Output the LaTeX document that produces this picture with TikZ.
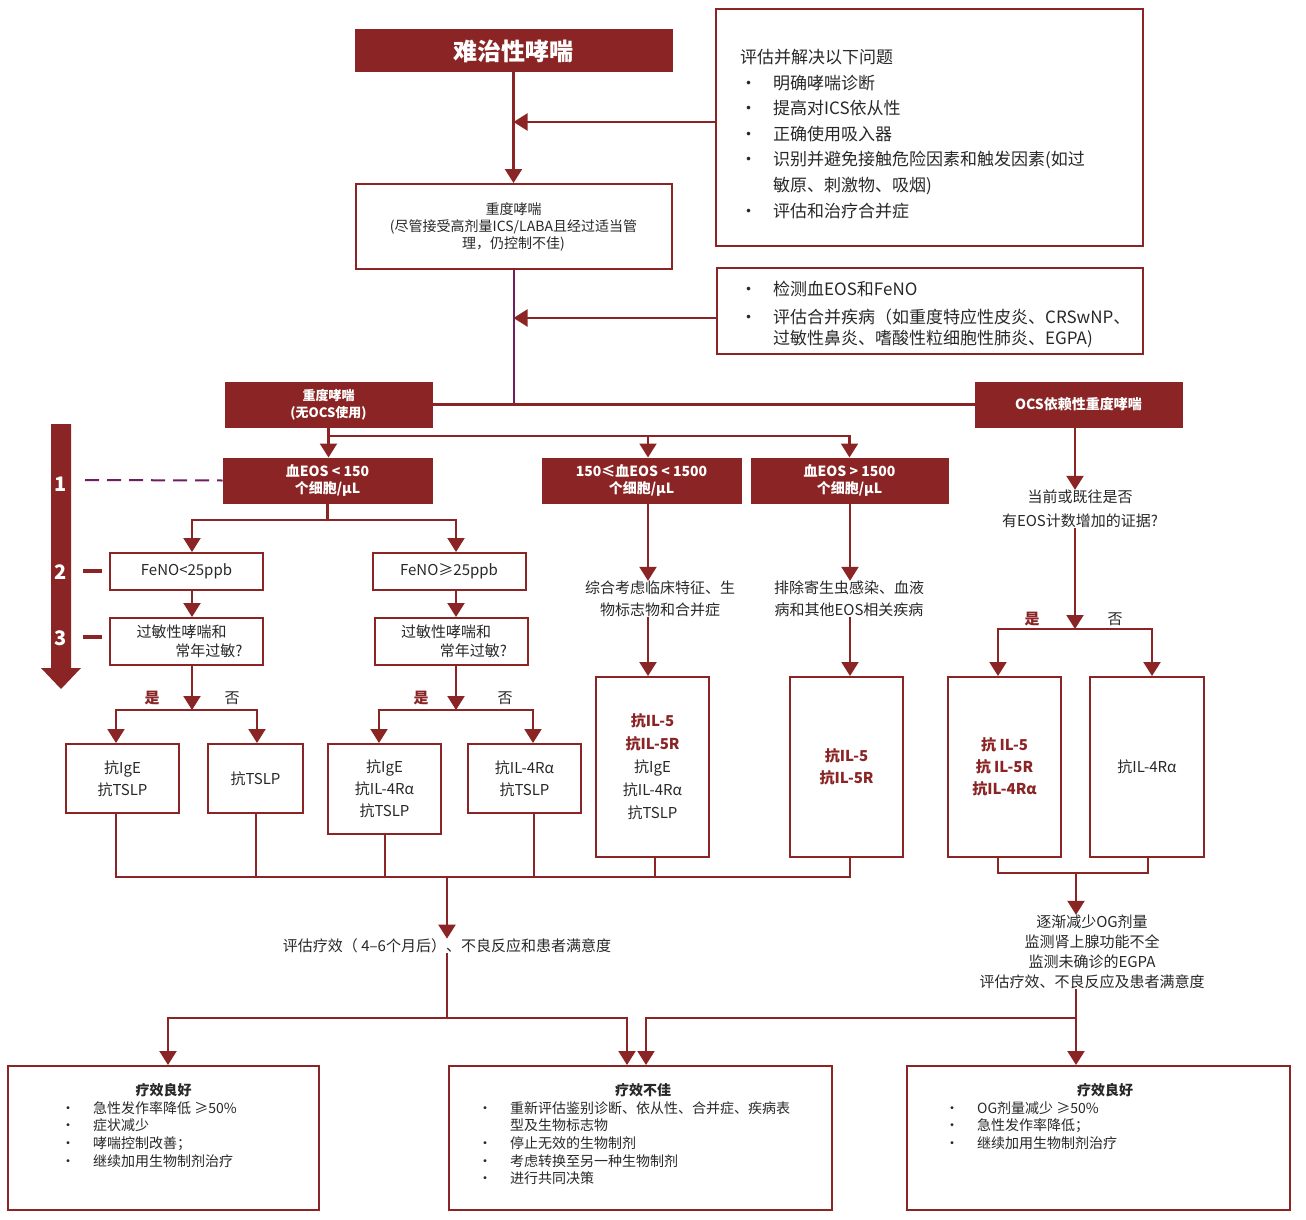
\documentclass[tikz,border=0pt]{standalone}
\usepackage{fontspec}
\setmainfont{Noto Sans CJK SC}
\usepackage{xcolor}
\usepackage{tikz}
\usetikzlibrary{arrows.meta}
\definecolor{drd}{RGB}{139,37,37}
\definecolor{prp}{RGB}{112,30,96}
\definecolor{txt}{RGB}{40,40,40}
\newcommand{\fs}[2]{\fontsize{#1}{#2}\selectfont}
\newcommand{\bl}[1][32pt]{\makebox[#1][l]{•}}
\newcommand{\hlt}[1]{{\bfseries\color{drd}#1}}

\begin{document}
\begin{tikzpicture}[x=1pt,y=-1pt,
  rbox/.style={draw=drd,fill=drd,text=white,font=\bfseries\fs{14}{17},align=center,inner sep=0pt,line width=1pt},
  wbox/.style={draw=drd,fill=white,text=txt,font=\fs{15}{22},align=center,inner sep=0pt,line width=2pt},
  lbl/.style={text=txt,font=\fs{15}{22},align=center,inner sep=0pt},
  ln/.style={drd,line width=2.2pt},
  arr/.style={drd,line width=2.2pt,-{Triangle[width=17pt,length=14pt]}}]
\fill[white] (0,0) rectangle (1306,1220);
\useasboundingbox (0,0) rectangle (1306,1220);

\node[rbox,minimum width=317pt,minimum height=42pt,font=\bfseries\fs{24}{28}] (top) at (513.5,51) {难治性哮喘};
\node[wbox,minimum width=316pt,minimum height=85pt,font=\fs{14}{17}] (sev) at (513.5,226.5) {重度哮喘\\(尽管接受高剂量ICS/LABA且经过适当管\\理，仍控制不佳)};
\node[wbox,minimum width=427pt,minimum height=237pt] (chk1) at (929.5,127.5) {};
\node[lbl,anchor=north west,align=left,font=\fs{17}{25.6}] (chk1t) at (740,49) {评估并解决以下问题\\\bl[33pt]明确哮喘诊断\\\bl[33pt]提高对ICS依从性\\\bl[33pt]正确使用吸入器\\\bl[33pt]识别并避免接触危险因素和触发因素(如过\\\hspace*{33pt}敏原、刺激物、吸烟)\\\bl[33pt]评估和治疗合并症};
\node[wbox,minimum width=426pt,minimum height=86pt] (chk2) at (930,311) {};
\node[lbl,anchor=north west,align=left,font=\fs{17}{21}] (chk2t) at (740,281) {\bl[33pt]检测血EOS和FeNO\\[7pt]\bl[33pt]评估合并疾病（如重度特应性皮炎、CRSwNP、\\\hspace*{33pt}过敏性鼻炎、嗜酸性粒细胞性肺炎、EGPA)};

\draw[arr] (top) -- (sev);
\coordinate (q1) at ([yshift=5.5pt]chk1.west);
\coordinate (q2) at ([yshift=-7pt]chk2.west);
\draw[arr] (q1) -- (q1 -| top.south);
\draw[arr] (q2) -- (q2 -| top.south);

\node[rbox,minimum width=207pt,minimum height=45pt,font=\bfseries\fs{13}{17}] (nox) at (328.5,404.5) {重度哮喘\\(无OCS使用)};
\node[rbox,minimum width=207pt,minimum height=45pt] (ocs) at (1078.5,404.5) {OCS依赖性重度哮喘};
\draw[prp,line width=2pt] (sev.south) -- (sev.south |- nox.east);
\draw[ln] (nox.east) -- (ocs.west);

\node[rbox,minimum width=209pt,minimum height=45pt] (e1) at (327.5,480.5) {血EOS < 150\\个细胞/μL};
\node[rbox,minimum width=199pt,minimum height=45pt] (e2) at (641.5,480.5) {150≤血EOS < 1500\\个细胞/μL};
\node[rbox,minimum width=197pt,minimum height=45pt] (e3) at (849.5,480.5) {血EOS > 1500\\个细胞/μL};
\coordinate (b0) at (328.5,436);
\draw[arr] (nox.south) -- (nox.south |- e1.north);
\draw[arr] (b0) -| ([xshift=6.5pt]e2.north);
\draw[arr] (b0) -| (e3.north);

\fill[drd] (51,424) -- (71,424) -- (71,668) -- (81,668) -- (61,689) -- (41,668) -- (51,668) -- cycle;
\node[text=white,font=\bfseries\fs{20}{20}] (n1) at (61,484) {1};
\node[text=white,font=\bfseries\fs{20}{20}] (n2) at (61,572) {2};
\node[text=white,font=\bfseries\fs{20}{20}] (n3) at (61,638) {3};
\draw[prp,line width=2pt,dash pattern=on 14pt off 8pt] (85,480) -- (e1.west);
\draw[drd,line width=4pt] (83,571) -- (102,571);
\draw[drd,line width=4pt] (83,637) -- (102,637);

\node[wbox,minimum width=153pt,minimum height=37pt] (f1) at (186.5,571.5) {FeNO<25ppb};
\node[wbox,minimum width=153pt,minimum height=37pt] (f2) at (449,571.5) {FeNO≥25ppb};
\node[wbox,minimum width=153pt,minimum height=47pt,font=\fs{15}{19}] (a1) at (186.5,641.5) {过敏性哮喘和\hspace*{10pt}\\\hspace*{45pt}常年过敏?};
\node[wbox,minimum width=153pt,minimum height=47pt,font=\fs{15}{19}] (a2) at (451,641.5) {过敏性哮喘和\hspace*{10pt}\\\hspace*{45pt}常年过敏?};
\coordinate (b1) at (327.5,520);
\draw[ln] (e1.south) -- (b1);
\draw[arr] (b1) -| ([xshift=5.5pt]f1.north);
\draw[arr] (b1) -| ([xshift=7pt]f2.north);
\draw[arr] ([xshift=5.5pt]f1.south) -- ([xshift=5.5pt]a1.north);
\draw[arr] ([xshift=7pt]f2.south) -- ([xshift=5pt]a2.north);

\node[wbox,minimum width=113pt,minimum height=69pt] (g1) at (122.5,778.5) {抗IgE\\抗TSLP};
\node[wbox,minimum width=95pt,minimum height=69pt] (g2) at (255.5,778.5) {抗TSLP};
\node[wbox,minimum width=113pt,minimum height=90pt] (g3) at (384.5,789) {抗IgE\\抗IL-4Rα\\抗TSLP};
\node[wbox,minimum width=113pt,minimum height=69pt] (g4) at (524.5,778.5) {抗IL-4Rα\\抗TSLP};
\coordinate (y1) at (192,710);
\coordinate (y2) at (456,710);
\draw[arr] ([xshift=5.5pt]a1.south) -- (y1);
\draw[arr] (y1) -| ([xshift=-6.5pt]g1.north);
\draw[arr] (y1) -| ([xshift=1.5pt]g2.north);
\draw[arr] ([xshift=5pt]a2.south) -- (y2);
\draw[arr] (y2) -| ([xshift=-5.5pt]g3.north);
\draw[arr] (y2) -| ([xshift=8.5pt]g4.north);
\node[lbl,font=\bfseries\fs{15}{15},text=drd] (yes1) at (152,698) {是};
\node[lbl] (no1) at (232,698) {否};
\node[lbl,font=\bfseries\fs{15}{15},text=drd] (yes2) at (421,698) {是};
\node[lbl] (no2) at (505,698) {否};

\node[lbl] (t1) at (660,599) {综合考虑临床特征、生\\物标志物和合并症};
\node[lbl] (t2) at (849,599) {排除寄生虫感染、血液\\病和其他EOS相关疾病};
\node[wbox,minimum width=113pt,minimum height=180pt,font=\fs{15}{23}] (h1) at (652.5,767) {\hlt{抗IL-5}\\\hlt{抗IL-5R}\\抗IgE\\抗IL-4Rα\\抗TSLP};
\node[wbox,minimum width=113pt,minimum height=180pt] (h2) at (846.5,767) {\hlt{抗IL-5}\\\hlt{抗IL-5R}};
\coordinate (c2) at (648,503);
\coordinate (c3) at (850,503);
\draw[arr] (c2) -- (c2 |- t1.north);
\draw[arr] (c2 |- t1.south) -- (c2 |- h1.north);
\draw[arr] (c3) -- (c3 |- t2.north);
\draw[arr] (c3 |- t2.south) -- (c3 |- h2.north);

\node[lbl,font=\fs{15}{24}] (t3) at (1080,509) {当前或既往是否\\有EOS计数增加的证据?};
\node[wbox,minimum width=113pt,minimum height=180pt] (k1) at (1004.5,767) {\hlt{抗 IL-5}\\\hlt{抗 IL-5R}\\\hlt{抗IL-4Rα}};
\node[wbox,minimum width=114pt,minimum height=180pt] (k2) at (1147,767) {抗IL-4Rα};
\coordinate (c4) at (1075,427);
\coordinate (y3) at (1075,629);
\draw[arr] (c4) -- (c4 |- t3.north);
\draw[arr] (c4 |- t3.south) -- (y3);
\draw[arr] (y3) -| ([xshift=-6.5pt]k1.north);
\draw[arr] (y3) -| ([xshift=5pt]k2.north);
\node[lbl,font=\bfseries\fs{15}{15},text=drd] (yes3) at (1032,619) {是};
\node[lbl] (no3) at (1115,619) {否};

\node[lbl] (t5) at (447,946) {评估疗效（ 4–6个月后）、不良反应和患者满意度};
\node[lbl,font=\fs{15}{20}] (t4) at (1092,952) {逐渐减少OG剂量\\监测肾上腺功能不全\\监测未确诊的EGPA\\评估疗效、不良反应及患者满意度};
\coordinate (j1) at (447,877);
\coordinate (j2) at (1076,873);
\foreach \n/\s in {g1/-6.5,g2/0.5,g3/0.5,g4/9.5,h1/2.5,h2/3.5} \draw[ln] ([xshift=\s pt]\n.south) |- (j1);
\foreach \n/\s in {k1/-6.5,k2/1} \draw[ln] ([xshift=\s pt]\n.south) |- (j2);
\draw[arr] (j1) -- (j1 |- t5.north);
\draw[arr] (j2) -- (j2 |- t4.north);

\node[wbox,minimum width=311pt,minimum height=144pt] (m1) at (163.5,1138) {};
\node[wbox,minimum width=383pt,minimum height=144pt] (m2) at (640.5,1138) {};
\node[wbox,minimum width=383pt,minimum height=144pt] (m3) at (1098.5,1138) {};
\coordinate (j3) at (447,1018);
\coordinate (j4) at (1076,1018);
\draw[ln] (j3 |- t5.south) -- (j3);
\draw[ln] (j4 |- t4.south) -- (j4);
\draw[arr] (j3) -| ([xshift=4.5pt]m1.north);
\draw[arr] (j3) -| ([xshift=-13.5pt]m2.north);
\draw[arr] (j4) -| ([xshift=5.5pt]m2.north);
\draw[arr] (j4) -- (j4 |- m3.north);
\node[lbl,font=\bfseries\fs{14}{17}] (m1h) at (163.5,1090) {疗效良好};
\node[lbl,font=\bfseries\fs{14}{17}] (m2h) at (643,1090) {疗效不佳};
\node[lbl,font=\bfseries\fs{14}{17}] (m3h) at (1105,1090) {疗效良好};
\node[lbl,anchor=north west,align=left,font=\fs{14}{17.7}] (m1t) at (61,1101) {\bl 急性发作率降低 ≥50\%\\\bl 症状减少\\\bl 哮喘控制改善；\\\bl 继续加用生物制剂治疗};
\node[lbl,anchor=north west,align=left,font=\fs{14}{17.7}] (m2t) at (478,1101) {\bl 重新评估鉴别诊断、依从性、合并症、疾病表\\\hspace*{32pt}型及生物标志物\\\bl 停止无效的生物制剂\\\bl 考虑转换至另一种生物制剂\\\bl 进行共同决策};
\node[lbl,anchor=north west,align=left,font=\fs{14}{17.7}] (m3t) at (945,1101) {\bl OG剂量减少 ≥50\%\\\bl 急性发作率降低；\\\bl 继续加用生物制剂治疗};
\end{tikzpicture}
\end{document}
